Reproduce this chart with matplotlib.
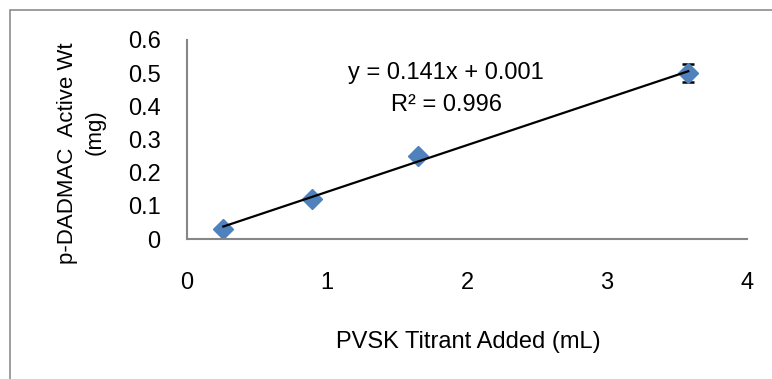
import matplotlib.pyplot as plt
import numpy as np
from matplotlib.patches import Rectangle

titrant_ml = [0.26, 0.89, 1.65, 3.58]
active_wt_mg = [0.03, 0.12, 0.25, 0.50]
err_mg = [0.003, 0.005, 0.008, 0.028]
slope = 0.141
intercept = 0.001
r2 = 0.996
xticks = [0, 1, 2, 3, 4]
yticks = [0, 0.1, 0.2, 0.3, 0.4, 0.5, 0.6]

plt.rcParams['font.family'] = ['Liberation Sans', 'DejaVu Sans']
W, H = 772, 379
fig = plt.figure(figsize=(W / 100, H / 100), dpi=100)
fig.patches.append(Rectangle((10 / W, -0.1), 1.2, 1 - 10 / H + 0.1, transform=fig.transFigure,
                             fill=False, edgecolor='#8c8c8c', linewidth=1.2))
ax = fig.add_axes([187 / W, 1 - 239 / H, 560 / W, 199 / H])

ax.errorbar(titrant_ml, active_wt_mg, yerr=err_mg, fmt='none', ecolor='black',
            elinewidth=1.2, capsize=4.5, capthick=1.8, zorder=2)
xs = np.array([min(titrant_ml), max(titrant_ml)])
ax.plot(xs, slope * xs + intercept, color='black', linewidth=1.6, zorder=3)
ax.plot(titrant_ml, active_wt_mg, linestyle='none', marker='D', markersize=10,
        color='#4f81bd', markeredgecolor='#4f81bd', zorder=2.5)

ax.set_xlim(0, 4)
ax.set_ylim(0, 0.6)
ax.set_xticks(xticks)
ax.set_xticklabels([str(t) for t in xticks])
ax.set_yticks(yticks)
ax.set_yticklabels(['0'] + [f'{t:.1f}' for t in yticks[1:]])
ax.tick_params(length=0, labelsize=17, colors='black')
ax.tick_params(axis='x', pad=24)
ax.tick_params(axis='y', pad=19)
for s in ['top', 'right']:
    ax.spines[s].set_visible(False)
for s in ['left', 'bottom']:
    ax.spines[s].set_color('#868686')
    ax.spines[s].set_linewidth(1.5)

fig.text(446 / W, 1 - 73 / H, f'y = {slope}x + {intercept}', ha='center', va='center', fontsize=17)
fig.text(447 / W, 1 - 105 / H, f'R² = {r2}', ha='center', va='center', fontsize=17)

fig.text(468 / W, 1 - 342 / H, 'PVSK Titrant Added (mL)', ha='center', va='center', fontsize=17)
fig.text(67 / W, 1 - 153 / H, 'p-DADMAC  Active Wt', rotation=90, ha='center', va='center', fontsize=16)
fig.text(95 / W, 1 - 132 / H, '(mg)', rotation=90, ha='center', va='center', fontsize=16)

fig.savefig('out.png', dpi=100)
